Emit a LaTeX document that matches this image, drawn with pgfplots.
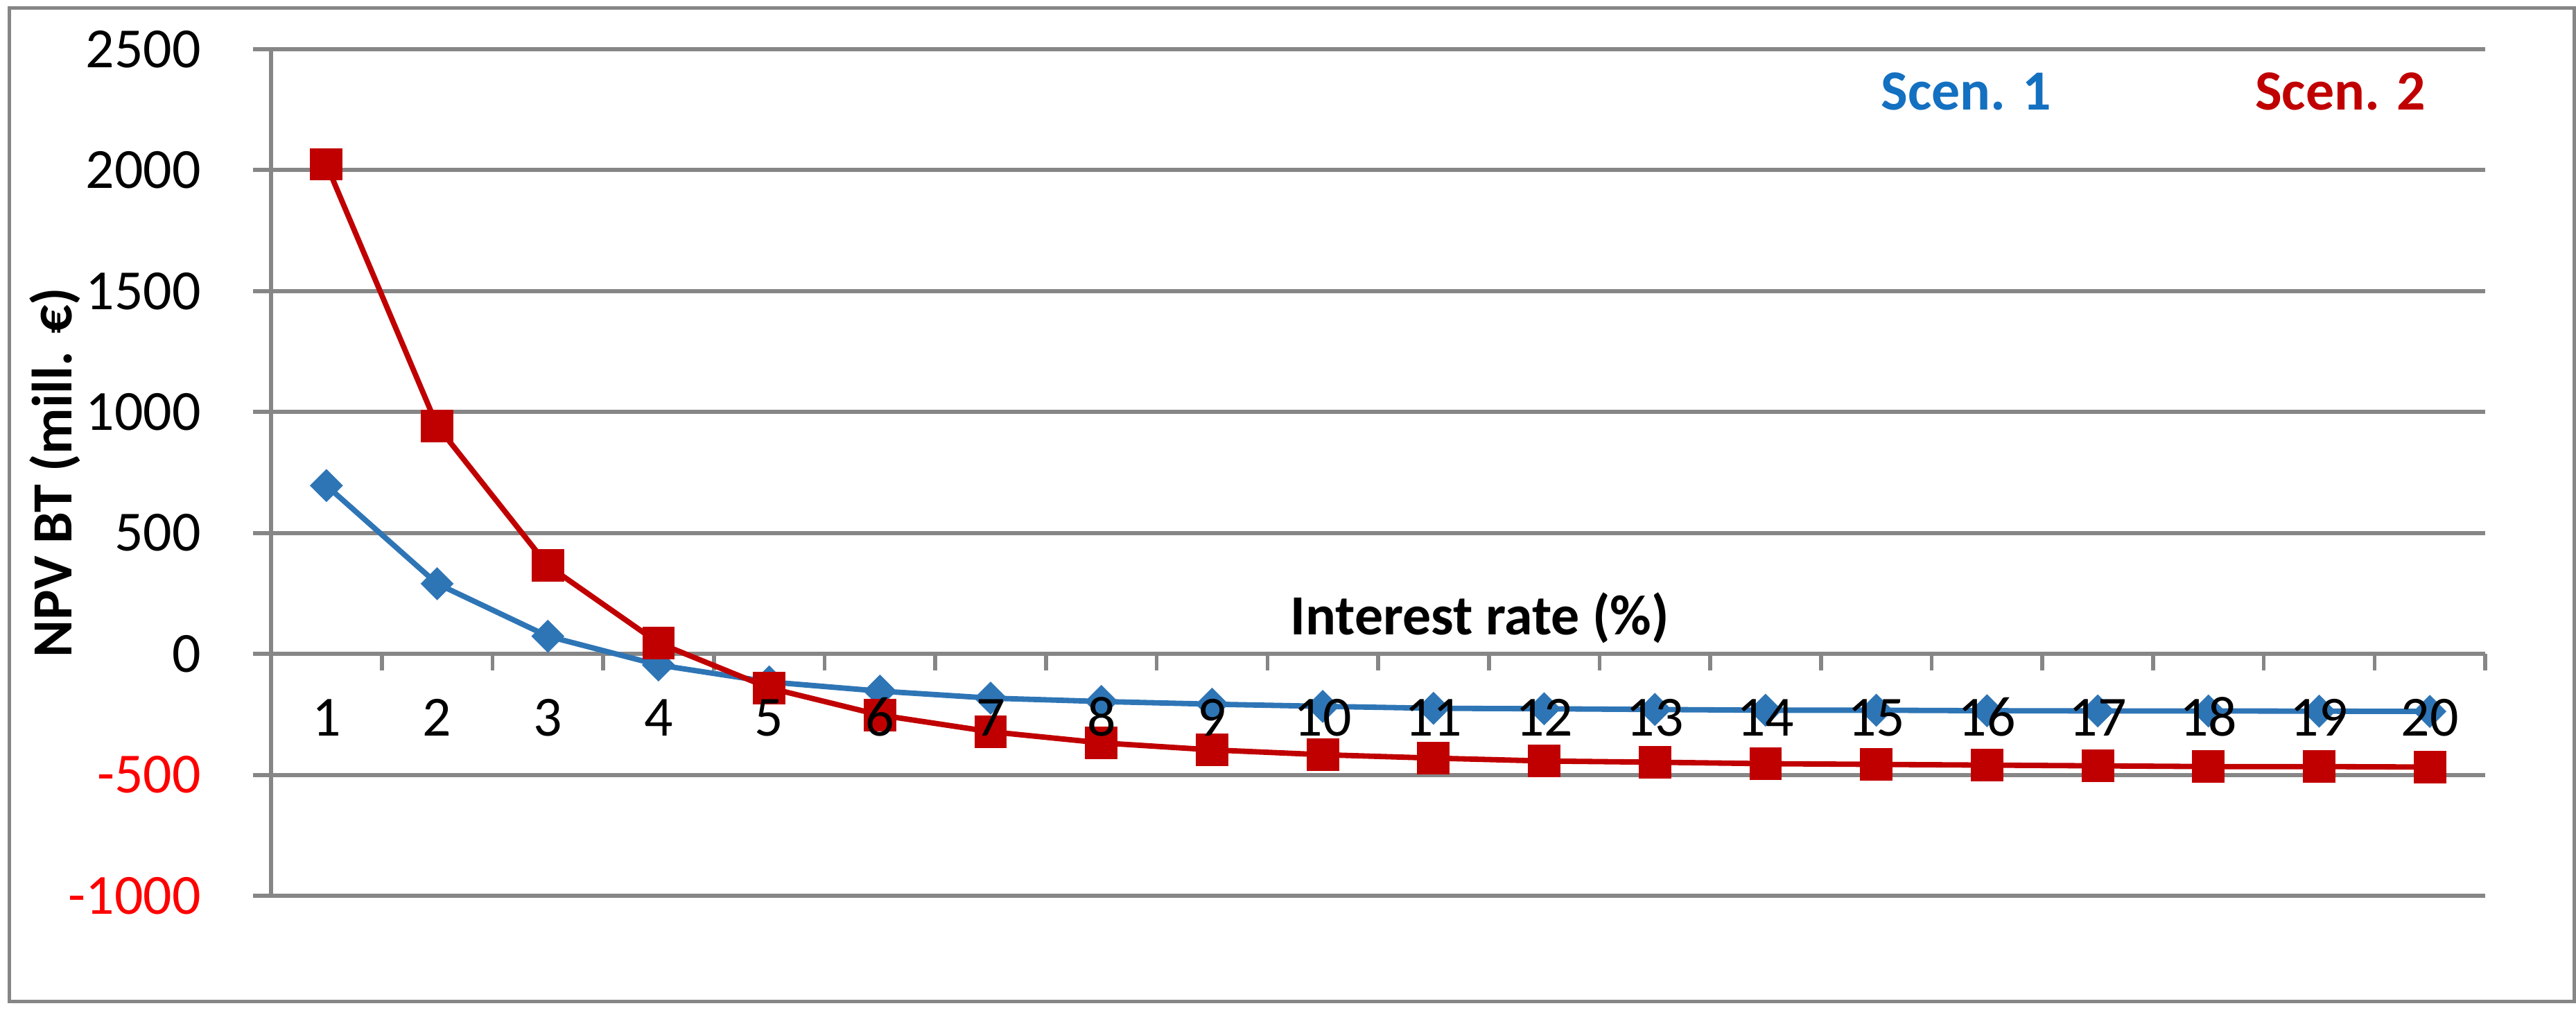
\documentclass[border=0pt]{standalone}
\usepackage{fontspec}
\setmainfont{Carlito}
\usepackage{pgfplots}
\pgfplotsset{compat=1.18}
\definecolor{gridgray}{RGB}{134,134,134}
\definecolor{sblue}{RGB}{46,117,182}
\definecolor{sred}{RGB}{192,0,0}
\definecolor{lblue}{RGB}{20,112,192}
\newcommand{\chartfont}{\fontsize{13.1pt}{15pt}\selectfont}
\pgfplotsset{
  layers/labelstop/.define layer set={
    axis background,axis grid,axis ticks,axis lines,pre main,main,axis tick labels,axis descriptions,axis foreground
  }{/pgfplots/layers/standard},
}
\begin{document}
\begin{tikzpicture}
\begin{axis}[
  set layers=labelstop,
  at={(62.56pt,27.52pt)}, anchor=south west,
  scale only axis, width=511.04pt, height=195.36pt,
  xmin=0.5, xmax=20.5, ymin=-1000, ymax=2500,
  axis x line*=middle, axis y line*=left,
  axis line style={gridgray, line width=0.96pt, -},
  tick align=center,
  xtick={1,...,20},
  xticklabels={1,2,3,4,5,6,7,8,9,10,11,12,13,14,15,16,17,18,19,20},
  major x tick style={draw=none},
  minor xtick={1.5,2.5,...,20.5},
  minor tick length=3.84pt,
  minor x tick style={gridgray, line width=0.9pt, yshift=-1.92pt},
  ytick={-1000,-500,0,500,1000,1500,2000,2500},
  yticklabels={\textcolor{red}{-1000},\textcolor{red}{-500},0,500,1000,1500,2000,2500},
  major tick length=4.16pt,
  major y tick style={gridgray, line width=0.96pt, xshift=-2.08pt},
  ymajorgrids,
  major grid style={gridgray, line width=0.96pt},
  tick label style={font=\chartfont},
  yticklabel style={anchor=east, inner sep=0pt, xshift=-13.92pt},
  xticklabel style={anchor=base, inner sep=0pt, yshift=-16.8pt},
  xlabel={Interest rate (\%)},
  xlabel style={at={(axis description cs:0.546,0.308)}, anchor=base, inner sep=0pt, font=\chartfont\bfseries},
  ylabel={NPV BT (mill. €)},
  ylabel style={at={(axis description cs:-0.09017,0.5)}, anchor=base, inner sep=0pt, font=\chartfont\bfseries},
  legend columns=2,
  legend image code/.code={},
  legend style={draw=none, fill=none, inner sep=0pt, at={(axis description cs:0.7267,0.9464)}, anchor=west,
    nodes={inner sep=0pt, font=\chartfont\bfseries},
    /tikz/every even column/.append style={column sep=47pt}},
]
\addplot[sblue, line width=1.25pt, mark=square*, mark size=2.55pt,
  mark options={rotate=45, solid, fill=sblue, draw=sblue, line width=0.3pt}]
  coordinates {
  (1,696) (2,290) (3,73) (4,-46) (5,-116) (6,-154) (7,-183) (8,-197) (9,-208) (10,-217)
  (11,-225) (12,-227) (13,-230) (14,-233) (15,-233) (16,-235) (17,-236) (18,-236) (19,-237) (20,-238)
  };
\addlegendentry{\textcolor{lblue}{Scen. 1}}
\addplot[sred, line width=1.25pt, mark=square*, mark size=3.6pt,
  mark options={solid, fill=sred, draw=sred, line width=0.3pt}]
  coordinates {
  (1,2024) (2,943) (3,365) (4,45) (5,-141) (6,-253) (7,-322) (8,-368) (9,-397) (10,-417)
  (11,-431) (12,-443) (13,-448) (14,-454) (15,-457) (16,-460) (17,-463) (18,-466) (19,-466) (20,-468)
  };
\addlegendentry{\textcolor{sred}{Scen. 2}}
\end{axis}
\path[use as bounding box] (0,0) rectangle (594.56pt,234.24pt);
\draw[gridgray, line width=0.8pt] (2.08pt,3.04pt) rectangle (594.08pt,232.32pt);
\end{tikzpicture}
\end{document}
